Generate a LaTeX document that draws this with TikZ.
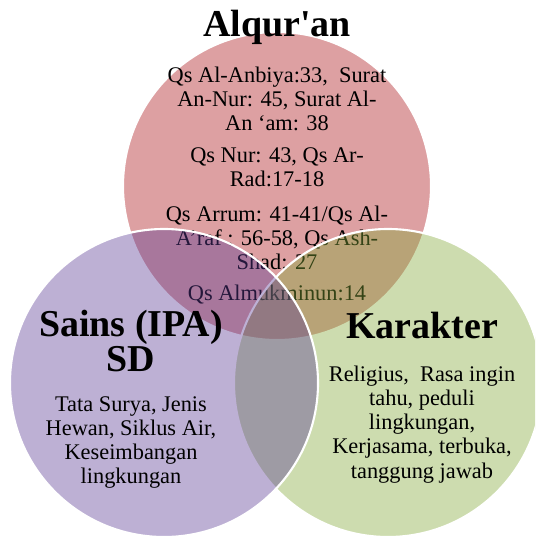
\documentclass[tikz,border=0pt]{standalone}
\usepackage{fontspec}
\setmainfont{Liberation Serif}[Ligatures=TeXOff]
\definecolor{quranred}{RGB}{221,160,162}
\definecolor{sainsviolet}{RGB}{90,58,148}
\definecolor{karaktergreen}{RGB}{130,168,55}
\tikzset{
  venn/.style={draw=white,line width=1.5pt},
  judul/.style={inner sep=0pt,font=\fontsize{27}{24.5}\selectfont\bfseries,align=center},
  isi/.style={inner sep=0pt,font=\fontsize{15.9}{17.1}\selectfont,align=center}
}

\begin{document}
\setlength{\lineskiplimit}{-30pt}
\begin{tikzpicture}[x=0.025cm,y=-0.025cm]
\useasboundingbox (0,0) rectangle (535,541);
\clip (0,0) rectangle (535,541);

% Alqur'an
\draw[venn,fill=quranred] (277,186) circle (154);
\node[isi] (ayat1) at (277,98.6) {Qs Al-Anbiya:33,\ \ Surat\\An-Nur: 45, Surat Al-\\An ‘am: 38};
\node[isi] (ayat2) at (277,167.6) {Qs Nur: 43, Qs Ar-\\Rad:17-18};
\node[isi] (ayat3) at (277,238) {Qs Arrum: 41-41/Qs Al-\\A’raf : 56-58, Qs Ash-\\Shad: 27};
\node[isi,anchor=base] (ayat4) at (277,300) {Qs Almukminun:14};

% Karakter and Sains circles
\draw[venn,fill=karaktergreen,fill opacity=0.4] (388,383) circle (154);
\draw[venn,fill=sainsviolet,fill opacity=0.4] (164,383) circle (154);

\node[judul,anchor=base] (alquran) at (277,36) {Alqur'an};
\node[judul] (sains) at (131,341) {Sains (IPA)\\SD};
\node[isi] (materi) at (131,442.6) {Tata Surya, Jenis\\Hewan, Siklus Air,\\Keseimbangan\\lingkungan};
\node[judul,anchor=base] (karakter) at (422,338) {Karakter};
\node[isi] (nilai) at (422,424.6) {Religius,\ \ Rasa ingin\\tahu, peduli\\lingkungan,\\Kerjasama, terbuka,\\tanggung jawab};
\end{tikzpicture}
\end{document}
